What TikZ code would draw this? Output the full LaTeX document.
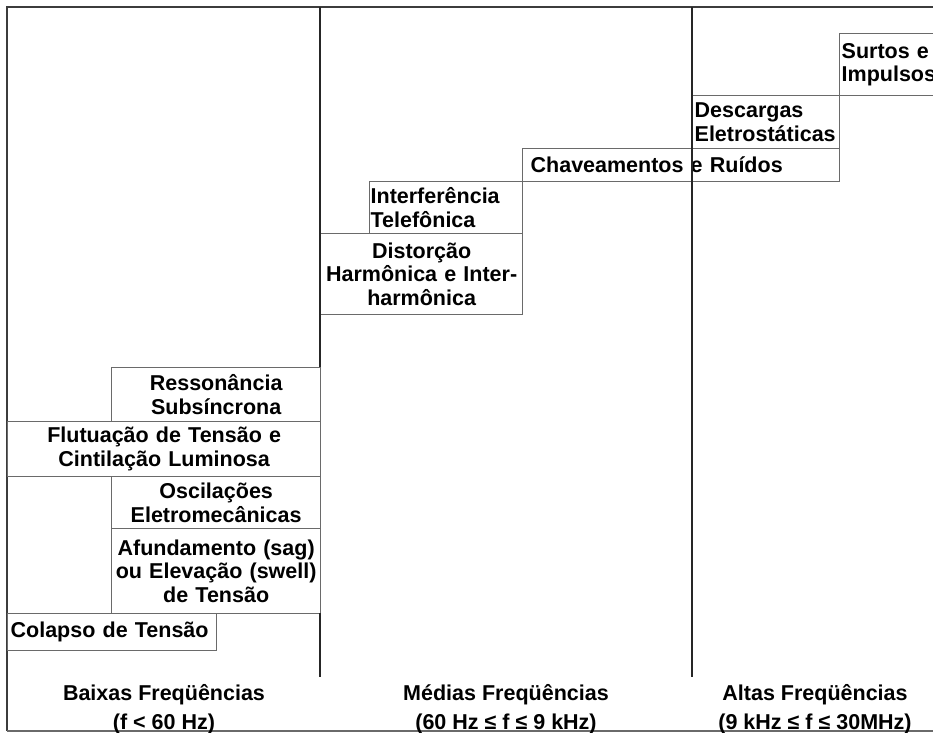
\documentclass[tikz,border=0pt]{standalone}
\usepackage{fontspec}
\setmainfont{Liberation Sans}
\usetikzlibrary{positioning}

\definecolor{boxgray}{HTML}{6A6A6A}
\definecolor{framegray}{HTML}{3C3C3C}

\begin{document}
\begin{tikzpicture}[x=1pt, y=-1pt,
  faixa/.style={draw=boxgray, line width=1.3pt, anchor=north west, inner sep=0pt,
    font=\bfseries\fontsize{21.5}{23.5}\selectfont},
  rotulo/.style={align=center, inner sep=0pt, font=\bfseries\fontsize{21.5}{29}\selectfont},
  divisa/.style={draw=black!85, line width=2pt}]

\useasboundingbox (0,0) rectangle (933,732);

% moldura
\draw [framegray, line width=2pt] (945,7) -- (7,7) -- (7,731);
\draw [boxgray, line width=1.5pt] (7,731) -- (945,731);

% altas frequencias
\node [faixa, minimum width=110pt, minimum height=62pt, text width=106pt, align=left] (surtos) at (839,33) {Surtos e\\Impulsos};
\node [faixa, minimum width=147pt, minimum height=53pt, text width=143pt, align=left] (descargas) at (692,95) {Descargas\\Eletrostáticas};
\node [faixa, minimum width=317pt, minimum height=33pt, text width=301pt, align=left] (chav) at (522,148) {Chaveamentos e Ruídos};

% medias frequencias
\node [faixa, minimum width=153pt, minimum height=52pt, text width=151pt, align=left] (interf) at (369,181) {Interferência\\Telefônica};
\node [faixa, minimum width=202pt, minimum height=81pt, text width=198pt, align=center] (distorcao) at (320,233) {Distorção\\Harmônica e Inter-\\harmônica};

% baixas frequencias
\node [faixa, minimum width=209pt, minimum height=54pt, text width=205pt, align=center] (resson) at (111,367) {Ressonância\\Subsíncrona};
\node [faixa, minimum width=313pt, minimum height=55pt, text width=309pt, align=center] (flutua) at (7,421) {Flutuação de Tensão e\\Cintilação Luminosa};
\node [faixa, minimum width=209pt, minimum height=52pt, text width=205pt, align=center] (oscila) at (111,476) {Oscilações\\Eletromecânicas};
\node [faixa, minimum width=209pt, minimum height=85pt, text width=205pt, align=center] (afunda) at (111,528) {Afundamento (sag)\\ou Elevação (swell)\\de Tensão};
\node [faixa, minimum width=209pt, minimum height=37pt, text width=203pt, align=left] (colapso) at (7,613) {Colapso de Tensão};

% divisas entre faixas
\draw [divisa] (320,7) -- (320,367);
\draw [divisa] (320,613) -- (320,677);
\draw [divisa] (692,7) -- (692,677);

% rotulos das faixas
\node [rotulo] (baixas) at (164,709) {Baixas Freqüências\\(f < 60 Hz)};
\node [rotulo] (medias) at (506,709) {Médias Freqüências\\(60 Hz ≤ f ≤ 9 kHz)};
\node [rotulo] (altas) at (815,709) {Altas Freqüências\\(9 kHz ≤ f ≤ 30MHz)};

\end{tikzpicture}
\end{document}
